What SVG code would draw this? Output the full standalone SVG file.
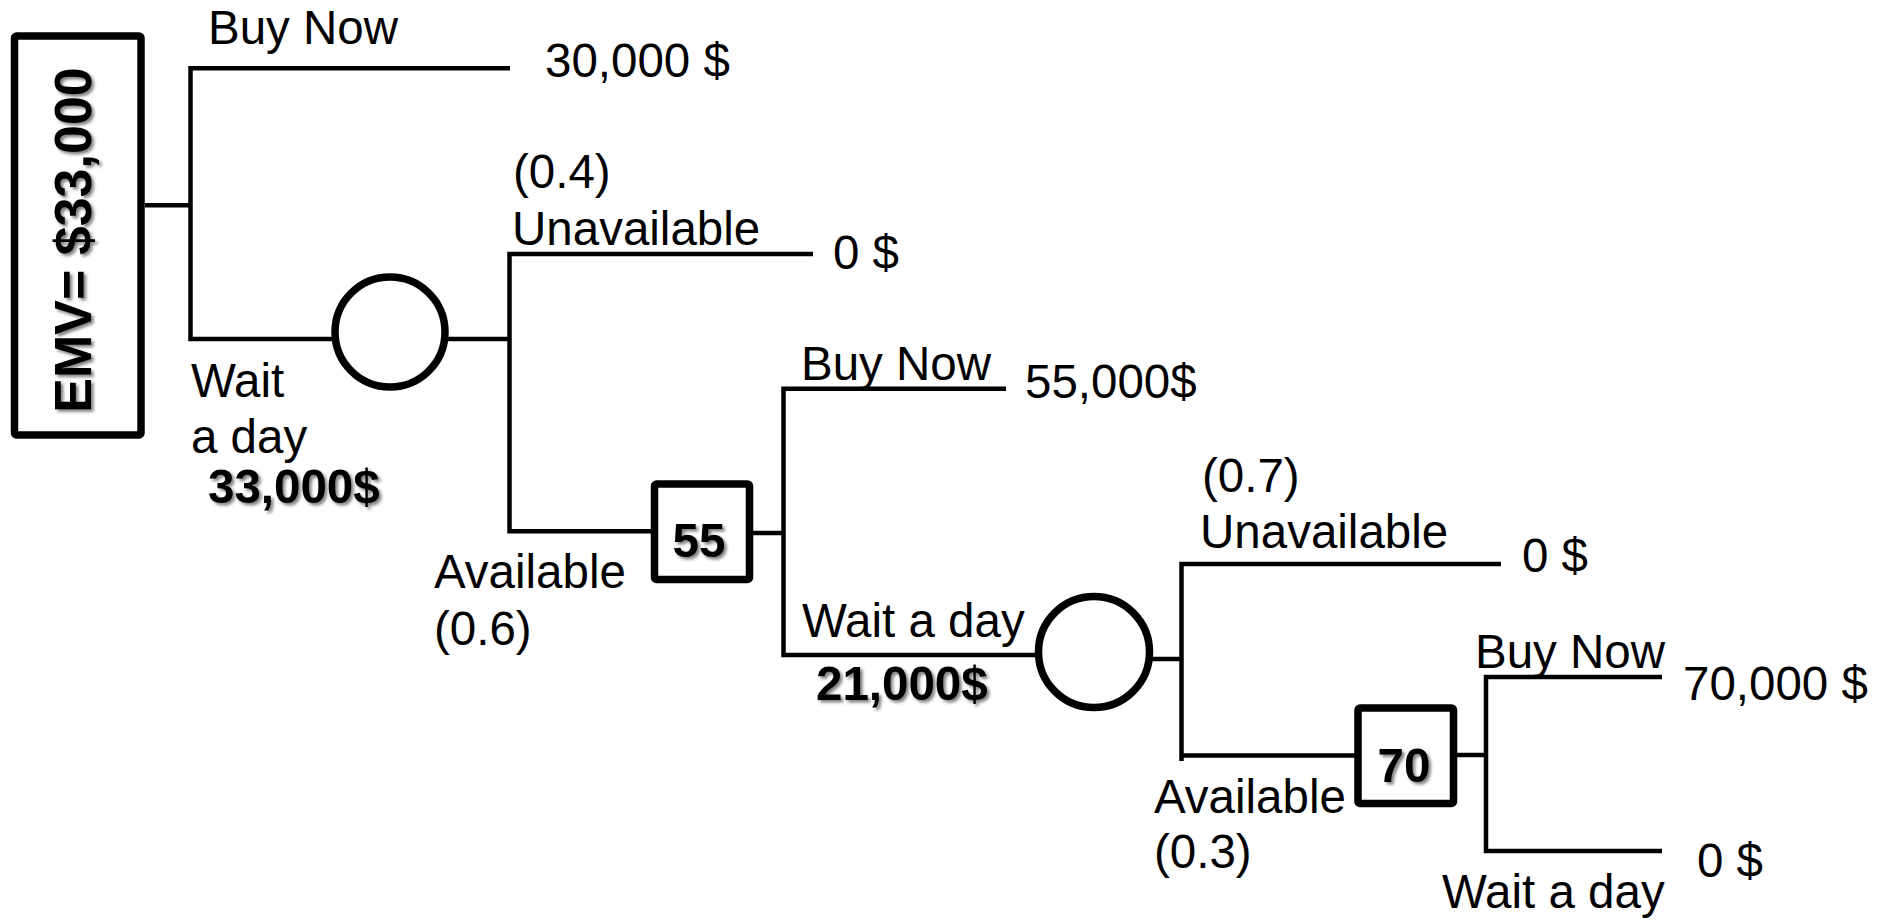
<svg xmlns="http://www.w3.org/2000/svg" width="1877" height="920" viewBox="0 0 1877 920">
<style>
.ln{stroke:#000;stroke-width:4.5;fill:none;stroke-linejoin:miter}
.nd{stroke:#000;stroke-width:7.5;fill:#fff}
.t{font-family:"Liberation Sans",Arial,Helvetica,sans-serif;font-size:47.5px;fill:#000}
.b{font-weight:bold}
</style>
<defs>
<filter id="sh" x="-20%" y="-20%" width="150%" height="150%">
<feDropShadow dx="2.5" dy="2.5" stdDeviation="1.8" flood-color="#000" flood-opacity="0.5"/>
</filter>
</defs>
<rect x="0" y="0" width="1877" height="920" fill="#fff"/>
<g id="connectors">
<path class="ln" d="M510 68.3 H190.5 V339 H335"/>
<path class="ln" d="M145 205.3 H190.5"/>
<path class="ln" d="M445 339 H509.5"/>
<path class="ln" d="M813 254 H509.5 V531.3 H654"/>
<path class="ln" d="M750 533 H783.5"/>
<path class="ln" d="M1006 388.7 H783.5 V655 H1038"/>
<path class="ln" d="M1149 659 H1181.5"/>
<path class="ln" d="M1501 564 H1181.5 V761"/>
<path class="ln" d="M1181.5 755.5 H1358"/>
<path class="ln" d="M1453 755 H1486"/>
<path class="ln" d="M1662 677 H1486 V851 H1662"/>
</g>
<g id="root-decision">
<rect class="nd" x="14.5" y="36" width="126.5" height="399" rx="2"/>
<g filter="url(#sh)"><text class="t b" text-anchor="middle" x="91" y="240" transform="rotate(-90 91 240)" style="font-size:52px">EMV= $33,000</text></g>
</g>
<g id="chance-1">
<circle class="nd" cx="390" cy="332" r="55"/>
</g>
<g id="decision-55">
<rect class="nd" x="654.5" y="484" width="95" height="95.5" rx="2"/>
<text class="t b" text-anchor="middle" x="699" y="557" filter="url(#sh)">55</text>
</g>
<g id="chance-2">
<circle class="nd" cx="1094" cy="652" r="55.5"/>
</g>
<g id="decision-70">
<rect class="nd" x="1358" y="708" width="95.5" height="95.5" rx="2"/>
<text class="t b" text-anchor="middle" x="1404" y="781.7" filter="url(#sh)">70</text>
</g>
<g id="labels">
<text class="t" x="208" y="43.5">Buy Now</text>
<text class="t" x="545" y="76.7">30,000 $</text>
<text class="t" x="513" y="188">(0.4)</text>
<text class="t" x="512" y="245">Unavailable</text>
<text class="t" x="833" y="269">0 $</text>
<text class="t" x="191" y="396.7">Wait</text>
<text class="t" x="191" y="452.7">a day</text>
<text class="t b" x="208" y="503.3" filter="url(#sh)">33,000$</text>
<text class="t" x="801" y="380">Buy Now</text>
<text class="t" x="1025" y="398.3">55,000$</text>
<text class="t" x="434" y="588.3">Available</text>
<text class="t" x="434" y="645">(0.6)</text>
<text class="t" x="802" y="636.7">Wait a day</text>
<text class="t b" x="816" y="700" filter="url(#sh)">21,000$</text>
<text class="t" x="1202" y="491.7">(0.7)</text>
<text class="t" x="1200" y="548.3">Unavailable</text>
<text class="t" x="1522" y="571.7">0 $</text>
<text class="t" x="1154" y="812.7">Available</text>
<text class="t" x="1154" y="868.3">(0.3)</text>
<text class="t" x="1475" y="668.3">Buy Now</text>
<text class="t" x="1683" y="700">70,000 $</text>
<text class="t" x="1697" y="876.7">0 $</text>
<text class="t" x="1442" y="908.3">Wait a day</text>
</g>
</svg>
